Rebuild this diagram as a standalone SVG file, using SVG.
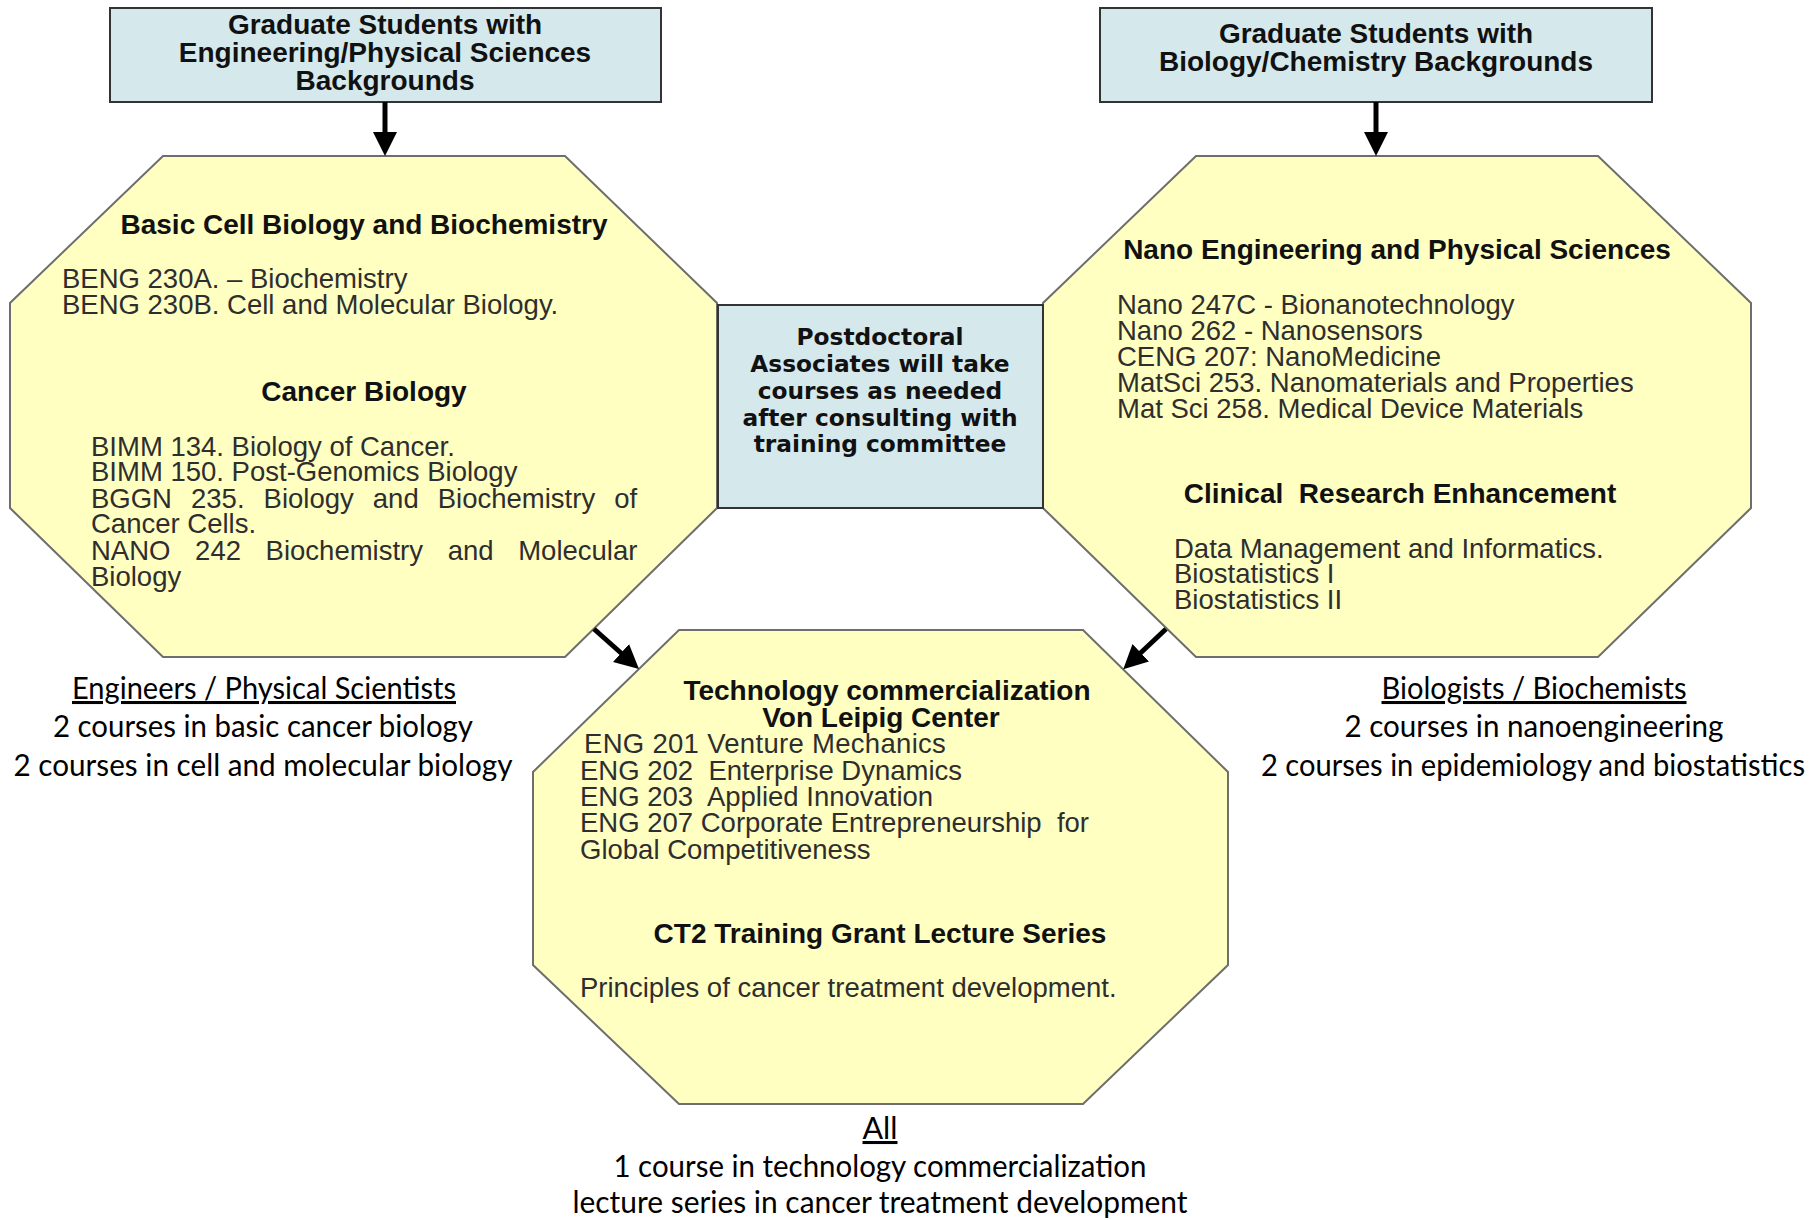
<svg xmlns="http://www.w3.org/2000/svg" width="1819" height="1220" viewBox="0 0 1819 1220">
<defs>
<style>
.box{fill:#d5e9ec;stroke:#333;stroke-width:2}
.oct{fill:#ffffc2;stroke:#6e6e6e;stroke-width:2}
.bt{font-family:"Liberation Sans",Arial,sans-serif;font-weight:bold;font-size:28px;fill:#111;text-anchor:middle}
.h{font-family:"Liberation Sans",Arial,sans-serif;font-weight:bold;font-size:28px;fill:#111;text-anchor:middle}
.c{font-family:"Liberation Sans",Arial,sans-serif;font-size:27.5px;fill:#2e2e2e}
.pd{font-family:"DejaVu Sans",Verdana,sans-serif;font-weight:bold;font-size:23.3px;fill:#111;text-anchor:middle}
.lb{font-family:Lato,"Open Sans",sans-serif;font-size:30.5px;fill:#000;text-anchor:middle}
.u{text-decoration:underline}
.arr{stroke:#000;stroke-width:5;fill:none;marker-end:url(#ah)}
</style>
<marker id="ah" markerUnits="userSpaceOnUse" markerWidth="26" markerHeight="26" refX="12" refY="12" orient="auto">
<path d="M0,0 L24,12 L0,24 Z" fill="#000"/>
</marker>
</defs>
<rect width="1819" height="1220" fill="#fff"/>

<g id="node-grad-eng">
<rect class="box" x="110" y="8" width="551" height="94"/>
<text class="bt" x="385" y="34">Graduate Students with</text>
<text class="bt" x="385" y="62">Engineering/Physical Sciences</text>
<text class="bt" x="385" y="90">Backgrounds</text>
</g>

<g id="node-grad-bio">
<rect class="box" x="1100" y="8" width="552" height="94"/>
<text class="bt" x="1376" y="43">Graduate Students with</text>
<text class="bt" x="1376" y="71">Biology/Chemistry Backgrounds</text>
</g>

<g id="node-basic-cell">
<polygon class="oct" points="163,156 565,156 717,303 717,508 565,657 163,657 10,508 10,303"/>
<text class="h" x="364" y="234">Basic Cell Biology and Biochemistry</text>
<text class="c" x="62" y="288">BENG 230A. – Biochemistry</text>
<text class="c" x="62" y="314">BENG 230B. Cell and Molecular Biology.</text>
<text class="h" x="364" y="401">Cancer Biology</text>
<text class="c" x="91" y="456">BIMM 134. Biology of Cancer.</text>
<text class="c" x="91" y="481">BIMM 150. Post-Genomics Biology</text>
<text class="c" x="91" y="508" word-spacing="11.4">BGGN 235. Biology and Biochemistry of</text>
<text class="c" x="91" y="533">Cancer Cells.</text>
<text class="c" x="91" y="560" word-spacing="17">NANO 242 Biochemistry and Molecular</text>
<text class="c" x="91" y="586">Biology</text>
</g>

<g id="node-nano">
<polygon class="oct" points="1196,156 1598,156 1751,303 1751,508 1598,657 1196,657 1043,508 1043,303"/>
<text class="h" x="1397" y="259">Nano Engineering and Physical Sciences</text>
<text class="c" x="1117" y="314">Nano 247C - Bionanotechnology</text>
<text class="c" x="1117" y="340">Nano 262 - Nanosensors</text>
<text class="c" x="1117" y="366">CENG 207: NanoMedicine</text>
<text class="c" x="1117" y="392">MatSci 253. Nanomaterials and Properties</text>
<text class="c" x="1117" y="418">Mat Sci 258. Medical Device Materials</text>
<text class="h" x="1400" y="503" xml:space="preserve">Clinical  Research Enhancement</text>
<text class="c" x="1174" y="558">Data Management and Informatics.</text>
<text class="c" x="1174" y="583">Biostatistics I</text>
<text class="c" x="1174" y="609">Biostatistics II</text>
</g>

<g id="node-postdoc">
<rect class="box" x="718" y="305" width="325" height="203"/>
<text class="pd" x="880" y="345">Postdoctoral</text>
<text class="pd" x="880" y="372">Associates will take</text>
<text class="pd" x="880" y="399">courses as needed</text>
<text class="pd" x="880" y="426">after consulting with</text>
<text class="pd" x="880" y="452">training committee</text>
</g>

<g id="node-tech">
<polygon class="oct" points="679,630 1083,630 1228,772 1228,965 1083,1104 679,1104 533,965 533,772"/>
<text class="h" x="887" y="700">Technology commercialization</text>
<text class="h" x="881" y="727">Von Leipig Center</text>
<text class="c" x="584" y="753" letter-spacing="0.3">ENG 201 Venture Mechanics</text>
<text class="c" x="580" y="780" xml:space="preserve">ENG 202  Enterprise Dynamics</text>
<text class="c" x="580" y="806" xml:space="preserve">ENG 203  Applied Innovation</text>
<text class="c" x="580" y="832" xml:space="preserve">ENG 207 Corporate Entrepreneurship  for</text>
<text class="c" x="580" y="859">Global Competitiveness</text>
<text class="h" x="880" y="943">CT2 Training Grant Lecture Series</text>
<text class="c" x="580" y="997">Principles of cancer treatment development.</text>
</g>

<g id="label-eng">
<text class="lb u" x="264" y="699" textLength="384" lengthAdjust="spacingAndGlyphs">Engineers / Physical Scientists</text>
<text class="lb" x="263" y="737" textLength="420" lengthAdjust="spacingAndGlyphs">2 courses in basic cancer biology</text>
<text class="lb" x="263" y="776" textLength="499" lengthAdjust="spacingAndGlyphs">2 courses in cell and molecular biology</text>
</g>

<g id="label-bio">
<text class="lb u" x="1534" y="699" textLength="305" lengthAdjust="spacingAndGlyphs">Biologists / Biochemists</text>
<text class="lb" x="1534" y="737" textLength="379" lengthAdjust="spacingAndGlyphs">2 courses in nanoengineering</text>
<text class="lb" x="1533" y="776" font-size="29" textLength="544" lengthAdjust="spacingAndGlyphs">2 courses in epidemiology and biostatistics</text>
</g>

<g id="label-all">
<text class="lb u" x="880" y="1139">All</text>
<text class="lb" x="880" y="1177" textLength="533" lengthAdjust="spacingAndGlyphs">1 course in technology commercialization</text>
<text class="lb" x="880" y="1213" textLength="615" lengthAdjust="spacingAndGlyphs">lecture series in cancer treatment development</text>
</g>

<g id="connectors">
<line class="arr" x1="385" y1="102" x2="385" y2="144"/>
<line class="arr" x1="1376" y1="102" x2="1376" y2="144"/>
<line class="arr" x1="594" y1="629" x2="630" y2="661"/>
<line class="arr" x1="1166" y1="629" x2="1132" y2="661"/>
</g>
</svg>
